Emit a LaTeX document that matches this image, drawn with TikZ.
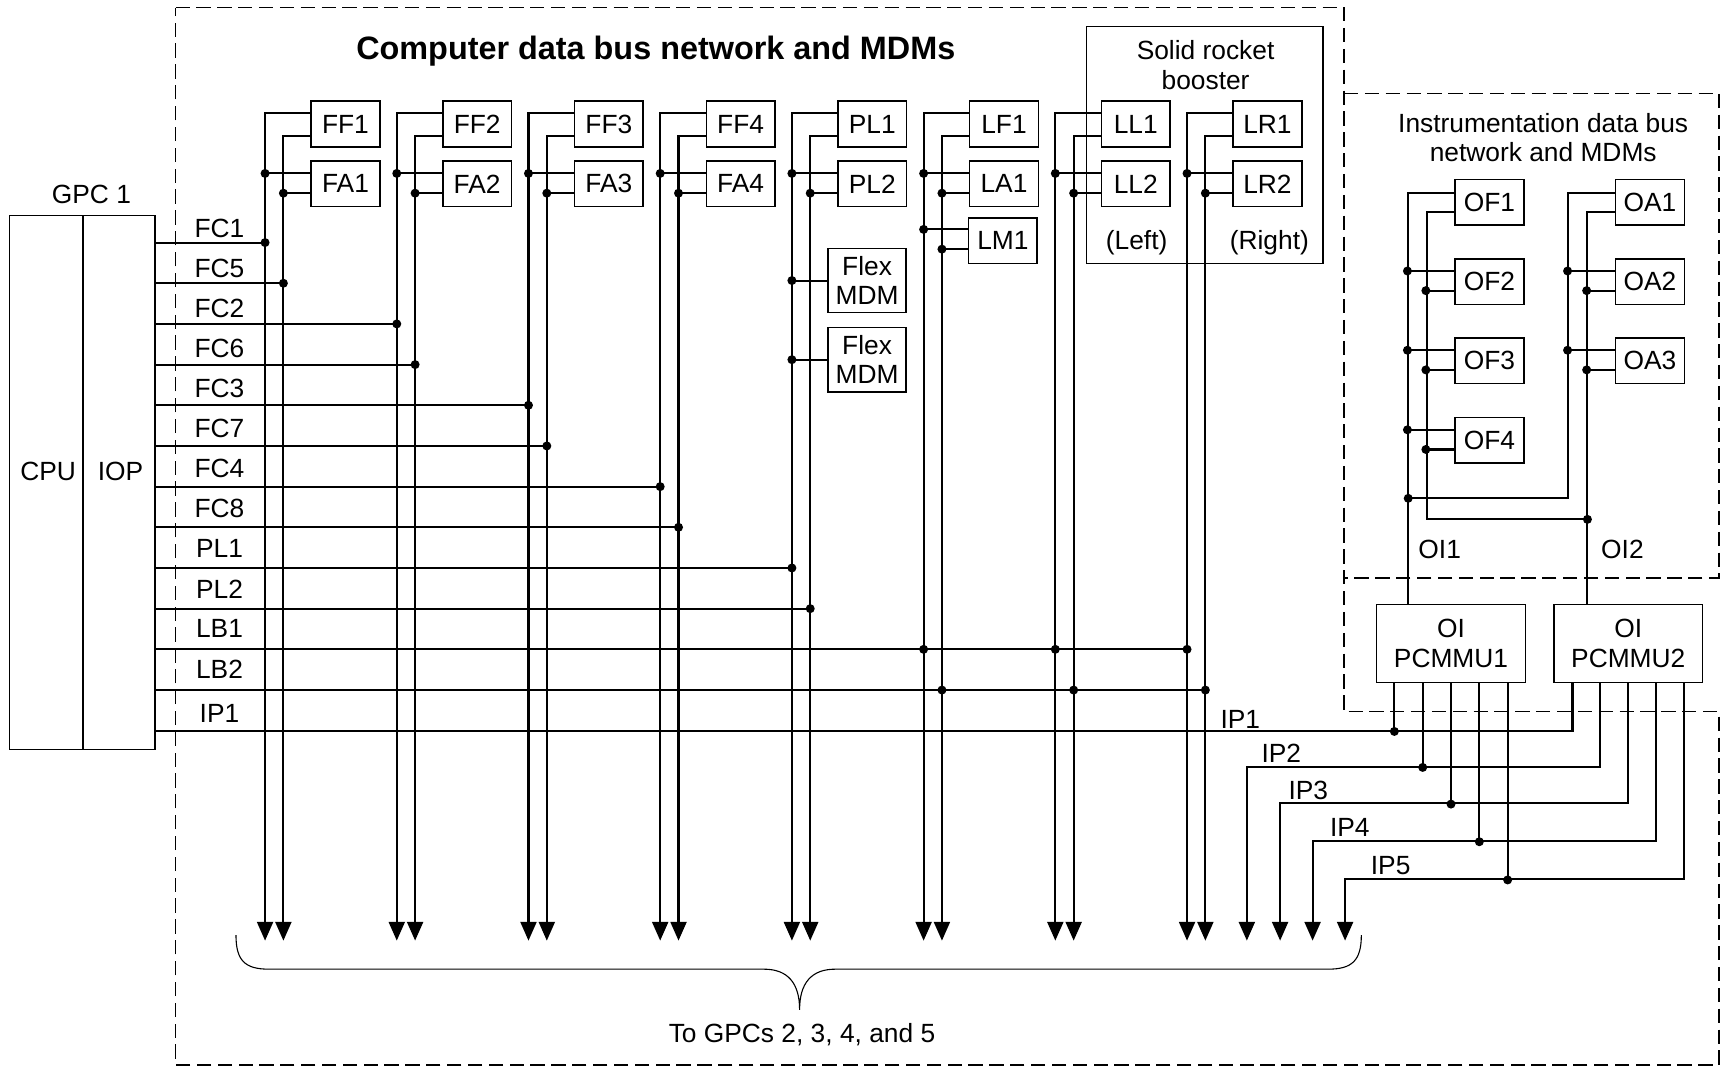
\documentclass[tikz,border=0pt]{standalone}
\usepackage{fontspec}
\setmainfont{Liberation Sans}
\usetikzlibrary{arrows.meta,calc}
\begin{document}
\begin{tikzpicture}[x=1pt,y=-1pt,
  font=\fontsize{24}{26}\selectfont,
  wire/.style={line width=1.9pt},
  arr/.style={-{Triangle[length=17pt,width=14.5pt]}},
  box/.style={draw,line width=1.4pt,inner sep=0pt,minimum width=62.5pt,minimum height=41.5pt},
  jdot/.style={circle,fill,inner sep=0pt,minimum size=8.2pt},
  region/.style={dash pattern=on 13pt off 6pt,line width=1.3pt},
  thinbox/.style={draw,line width=1.1pt,inner sep=0pt}]
\useasboundingbox (0,0) rectangle (1568,974);

% dashed regions
\draw[region] (160,7) -- (1224.5,7) -- (1224.5,648.4) -- (1566,648.4) -- (1566,970.3) -- (160,970.3) -- cycle;
\draw[region] (1224.5,85) -- (1566,85) -- (1566,526.5) -- (1224.5,526.5);

% titles
\node[anchor=base,font=\bfseries\fontsize{29.5}{32}\selectfont] (title) at (597.5,54) {Computer data bus network and MDMs};
\node[align=center] (IDBt) at (1406,125.3) {Instrumentation data bus\\network and MDMs};

% GPC 1
\node[thinbox,minimum width=67pt,minimum height=486.2pt] (CPU) at (42.2,439.6) {};
\node[thinbox,minimum width=65.5pt,minimum height=486.2pt] (IOP) at (108.45,439.6) {};
\node (CPUt) at (43.9,429.7) {CPU};
\node (IOPt) at (109.8,429.7) {IOP};
\node[anchor=base] (GPC) at (83.3,185.3) {GPC 1};

% bus wire end coordinates
\foreach \i in {0,...,7} {
  \coordinate (wo\i) at (241.5+120*\i,857);
  \coordinate (wi\i) at (258.2+120*\i,857);
}

% solid rocket booster frame
\node[thinbox,minimum width=215.4pt,minimum height=215.7pt] (SRB) at (1097.7,132.15) {};
\node[align=center,font=\fontsize{24}{27.3}\selectfont] (SRBt) at (1098.4,59.2) {Solid rocket\\booster};
\node (Left) at (1035.6,221) {(Left)};
\node (Right) at (1156.5,221) {(Right)};

% MDM pairs on each bus group
\foreach \i/\tp/\bt in {0/FF1/FA1,1/FF2/FA2,2/FF3/FA3,3/FF4/FA4,4/PL1/PL2,5/LF1/LA1,6/LL1/LL2,7/LR1/LR2} {
  \node[box] (\tp) at (314.75+120*\i,113) {\tp};
  \node[box] (\bt) at (314.75+120*\i,167.5) {\bt};
  \draw[wire,arr] (\tp.west |- 0,103) -| (wo\i);
  \draw[wire,arr] (\tp.west |- 0,124) -| (wi\i);
  \draw[wire] (\bt.west |- 0,158) -- (wo\i |- 0,158) node[jdot]{};
  \draw[wire] (\bt.west |- 0,176) -- (wi\i |- 0,176) node[jdot]{};
}

% Flex MDMs
\node[box,minimum width=71.2pt,minimum height=58.6pt,align=center] (Flex1) at (790,255.6) {Flex\\MDM};
\node[box,minimum width=71.2pt,minimum height=58.6pt,align=center] (Flex2) at (790,327.7) {Flex\\MDM};
\draw[wire] (Flex1.west) -- (wo4 |- Flex1.west) node[jdot]{};
\draw[wire] (Flex2.west) -- (wo4 |- Flex2.west) node[jdot]{};

% LM1
\node[box] (LM1) at (913.75,219.4) {LM1};
\draw[wire] (LM1.west |- 0,209) -- (wo5 |- 0,209) node[jdot]{};
\draw[wire] (LM1.west |- 0,227) -- (wi5 |- 0,227) node[jdot]{};

% feeder labels
\foreach \n/\lab in {0/FC1,1/FC5,2/FC2,3/FC6,4/FC3,5/FC7,6/FC4,7/FC8,8/PL1,9/PL2,10/LB1,11/LB2} {
  \pgfmathsetmacro\ly{208+36.5*\n}
  \node (f\lab) at (200,\ly) {\lab};
}
\node (fIP1) at (200,650) {IP1};

% feeder lines
\foreach \n/\w in {0/wo0,1/wi0,2/wo1,3/wi1,4/wo2,5/wi2,6/wo3,7/wi3,8/wo4,9/wi4} {
  \pgfmathsetmacro\yy{221+37.06*\n}
  \draw[wire] (IOP.east |- 0,\yy) -- (\w |- 0,\yy) node[jdot]{};
}
\draw[wire] (IOP.east |- 0,591.6) -- (wo7 |- 0,591.6) node[jdot]{};
\node[jdot] at (wo5 |- 0,591.6) {};
\node[jdot] at (wo6 |- 0,591.6) {};
\draw[wire] (IOP.east |- 0,628.7) -- (wi7 |- 0,628.7) node[jdot]{};
\node[jdot] at (wi5 |- 0,628.7) {};
\node[jdot] at (wi6 |- 0,628.7) {};

% instrumentation MDMs
\foreach \n/\y in {1/184.2,2/256.6,3/328.8,4/401.3}
  \node[box,minimum width=63pt] (OF\n) at (1357,\y) {OF\n};
\foreach \n/\y in {1/184.2,2/256.6,3/328.8}
  \node[box,minimum width=62.6pt] (OA\n) at (1503.3,\y) {OA\n};

% PCMMUs
\node[box,minimum width=135.4pt,minimum height=71.1pt,align=center,font=\fontsize{24}{28}\selectfont] (PC1) at (1322,586.1) {OI\\PCMMU1};
\node[box,minimum width=135.5pt,minimum height=71.1pt,align=center,font=\fontsize{24}{28}\selectfont] (PC2) at (1483.5,586.1) {OI\\PCMMU2};

% instrumentation buses
\draw[wire] (OF1.west |- 0,176) -| (PC1.north -| 1283,0);
\draw[wire] (OF1.west |- 0,193.4) -| (1299.8,473.2) -- (1446.3,473.2) node[jdot]{};
\draw[wire] (OA1.west |- 0,176) -| (1428.9,454) -- (1283,454) node[jdot]{};
\draw[wire] (OA1.west |- 0,193.4) -| (PC2.north -| 1446.3,0);
\foreach \n in {2,3,4} {
  \draw[wire] ([yshift=9.7pt]OF\n.west) -- ++(-42.5pt,0) node[jdot]{};
  \draw[wire] ([yshift=-8.2pt]OF\n.west) -- ++(-25.7pt,0) node[jdot]{};
}
\foreach \n in {2,3} {
  \draw[wire] ([yshift=9.7pt]OA\n.west) -- ++(-43.1pt,0) node[jdot]{};
  \draw[wire] ([yshift=-8.2pt]OA\n.west) -- ++(-25.7pt,0) node[jdot]{};
}
\node (OI1) at (1311.7,501) {OI1};
\node (OI2) at (1478.2,501) {OI2};

% PCMMU outputs
\foreach \d/\y in {-51.6/665.7,-25.8/698.5,0/731.9,25.8/766.2,51.6/801} {
  \draw[wire] ([xshift=\d pt]PC1.south) -- ++(0,\y-621.65) node[jdot]{};
}
\coordinate (ip2) at (1136,857);
\coordinate (ip3) at (1166.3,857);
\coordinate (ip4) at (1195.9,857);
\coordinate (ip5) at (1225.5,857);
\draw[wire] (IOP.east |- 0,665.7) -| ([xshift=-50.8pt]PC2.south);
\draw[wire,arr] ([xshift=-25.4pt]PC2.south) |- (ip2 |- 0,698.5) -- (ip2);
\draw[wire,arr] (PC2.south) |- (ip3 |- 0,731.9) -- (ip3);
\draw[wire,arr] ([xshift=25.4pt]PC2.south) |- (ip4 |- 0,766.2) -- (ip4);
\draw[wire,arr] ([xshift=50.8pt]PC2.south) |- (ip5 |- 0,801) -- (ip5);

\node[anchor=base] (ipl1) at (1130,664) {IP1};
\node[anchor=base] (ipl2) at (1167.4,694.5) {IP2};
\node[anchor=base] (ipl3) at (1192,728) {IP3};
\node[anchor=base] (ipl4) at (1229.8,761.7) {IP4};
\node[anchor=base] (ipl5) at (1267,796.6) {IP5};

% brace
\draw[line width=1pt] (215,852) .. controls (215,875) and (223,883) .. (245,883) -- (696,883)
  .. controls (718,883) and (728.5,896) .. (728.5,920)
  .. controls (728.5,896) and (739,883) .. (761,883) -- (1210,883)
  .. controls (1232,883) and (1240.3,875) .. (1240.3,852);
\node (dest) at (730.7,943) {To GPCs 2, 3, 4, and 5};
\end{tikzpicture}
\end{document}
